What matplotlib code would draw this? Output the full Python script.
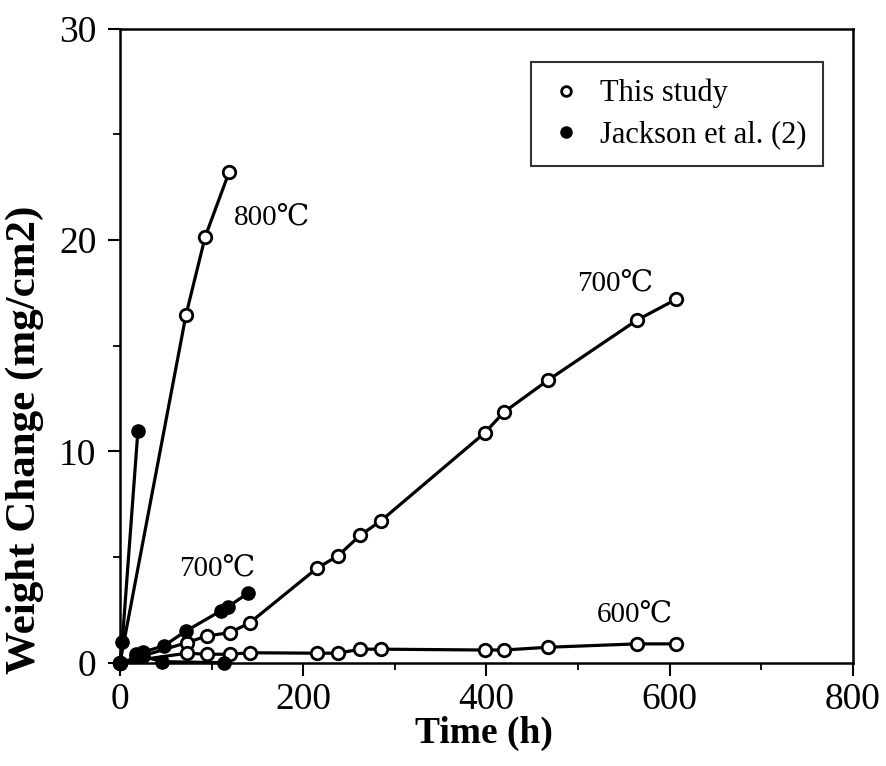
import matplotlib
matplotlib.use("Agg")
import matplotlib.pyplot as plt
from matplotlib.lines import Line2D
from matplotlib.ticker import MultipleLocator

plt.rcParams['font.family'] = ['Liberation Serif', 'DejaVu Serif', 'Noto Sans CJK JP']
plt.rcParams['mathtext.fontset'] = 'stix'

# ---- data (This study) ----
t800 = [0, 72, 93, 119]
w800 = [0.0, 16.45, 20.15, 23.2]

t700 = [0, 73, 95, 120, 142, 215, 238, 262, 285, 398, 419, 467, 564, 607]
w700 = [0.0, 0.95, 1.27, 1.42, 1.9, 4.47, 5.06, 6.02, 6.72, 10.87, 11.85, 13.36, 16.2, 17.19]

t600 = [0, 73, 95, 120, 142, 215, 238, 262, 285, 398, 419, 467, 564, 607]
w600 = [0.0, 0.45, 0.4, 0.4, 0.47, 0.45, 0.45, 0.64, 0.64, 0.6, 0.6, 0.73, 0.89, 0.89]

# ---- data (Jackson et al.) ----
tj800 = [0, 2.5, 19.5]
wj800 = [0.0, 1.0, 10.95]

tj700 = [17, 25, 48, 72, 110, 118, 140]
wj700 = [0.4, 0.5, 0.8, 1.5, 2.45, 2.65, 3.3]

tj600 = [17, 25, 46, 113]
wj600 = [0.3, 0.3, 0.05, 0.0]

labels = ["800℃", "700℃", "700℃", "600℃"]
label_x = [166, 540, 106, 562]
label_y = [21.0, 17.9, 4.4, 2.25]

fig = plt.figure(figsize=(8.87, 7.66), dpi=100)
ax = fig.add_axes([120/887, 1-662.7/766, (853-120)/887, (662.7-28.5)/766])

lw = 2.3
open_kw = dict(color='black', lw=lw, marker='o', markersize=9, markerfacecolor='white',
               markeredgecolor='black', markeredgewidth=2.0, clip_on=False, zorder=3)
fill_kw = dict(color='black', lw=lw, marker='o', markersize=9.5, markerfacecolor='black',
               markeredgecolor='black', clip_on=False, zorder=4)

ax.plot(tj800, wj800, **fill_kw)
ax.plot(tj700, wj700, **fill_kw)
ax.plot(tj600, wj600, **fill_kw)
ax.plot(t800, w800, **open_kw)
ax.plot(t700, w700, **open_kw)
ax.plot(t600, w600, **open_kw)

for s, x, y in zip(labels, label_x, label_y):
    ax.text(x, y, s, fontsize=21, ha='center', va='center')

ax.set_xlim(0, 800)
ax.set_ylim(0, 30)
ax.xaxis.set_major_locator(MultipleLocator(200))
ax.xaxis.set_minor_locator(MultipleLocator(100))
ax.yaxis.set_major_locator(MultipleLocator(10))
ax.yaxis.set_minor_locator(MultipleLocator(5))
ax.tick_params(which='major', direction='out', length=9, width=1.5, labelsize=27)
ax.tick_params(which='minor', direction='out', length=5, width=1.3)
ax.tick_params(axis='x', which='major', pad=5)
ax.tick_params(axis='y', which='major', pad=8)
for sp in ax.spines.values():
    sp.set_linewidth(1.8)

ax.set_xlabel("Time (h)", fontsize=27, fontweight='bold')
ax.set_ylabel("Weight Change (mg/cm2)", fontsize=31, fontweight='bold')
ax.xaxis.set_label_coords((484-120)/733, (662.7-716)/634.2)
ax.yaxis.set_label_coords((44-120)/733, (662.7-440)/634.2)

handles = [
    Line2D([], [], ls='none', marker='o', markersize=7, markerfacecolor='white',
           markeredgecolor='black', markeredgewidth=2.0),
    Line2D([], [], ls='none', marker='o', markersize=8, markerfacecolor='black',
           markeredgecolor='black'),
]
leg = ax.legend(handles, ["This study", "Jackson et al. (2)"], loc='upper left',
                bbox_to_anchor=((531-120)/733, (662.7-62)/634.2), fontsize=22,
                frameon=True, fancybox=False, borderpad=0.55, handletextpad=0.5,
                handlelength=1.2, labelspacing=0.4, borderaxespad=0)
leg.get_frame().set_edgecolor('black')
leg.get_frame().set_linewidth(1.5)

fig.savefig("out.png", dpi=100)
